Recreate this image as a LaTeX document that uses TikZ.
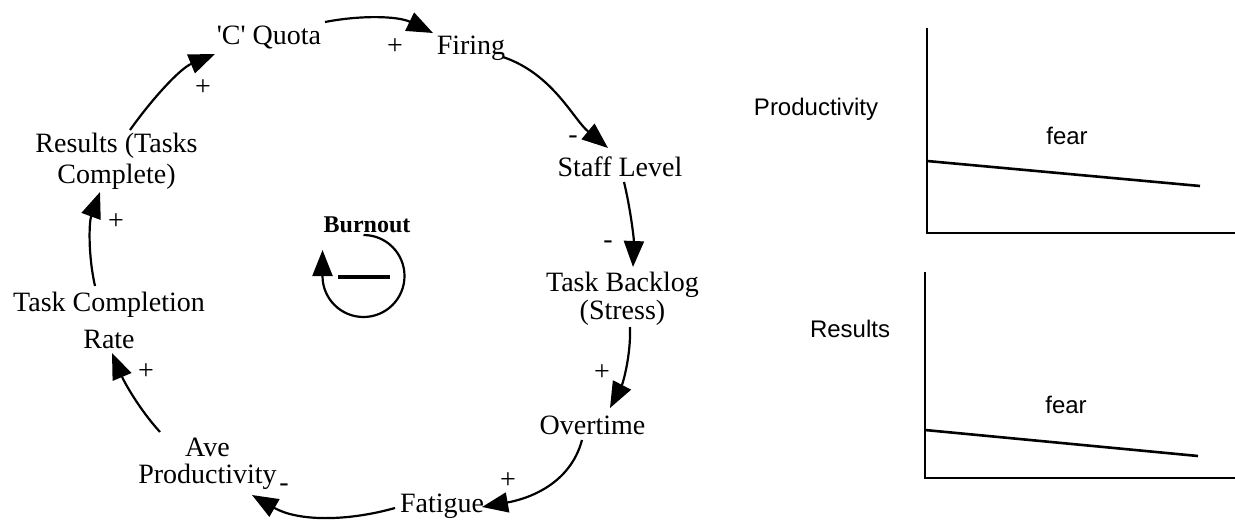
\documentclass[tikz,border=0pt]{standalone}
\usepackage{fontspec}
\setmainfont{Liberation Serif}
\newfontfamily\arialf{Liberation Sans}
\usetikzlibrary{arrows.meta}
\begin{document}
\begin{tikzpicture}[x=0.5pt,y=-0.5pt,
  var/.style={inner sep=0pt, font=\fontsize{14}{14}\selectfont, align=center},
  sgn/.style={inner sep=0pt, font=\fontsize{14}{14}\selectfont},
  link/.style={line width=1.1pt, -{Triangle[length=13pt,width=10pt]}},
  axisln/.style={line width=1pt},
  trend/.style={line width=1.3pt},
  lab/.style={inner sep=0pt, font=\arialf\fontsize{12}{12}\selectfont}]
\useasboundingbox (0,0) rectangle (1235,520);

% loop variables
\node[var] (quota) at (269,37.5) {\textquotesingle C\textquotesingle{} Quota};
\node[var] (firing) at (471,48.5) {Firing};
\node[var] (staff) at (620,167) {Staff Level};
\node[var, font=\fontsize{14}{14}\selectfont] (backlog) at (622.5,299) {Task Backlog\\(Stress)};
\node[var] (overtime) at (592.5,425) {Overtime};
\node[var] (fatigue) at (442,506) {Fatigue};
\node[var, font=\fontsize{14}{13.5}\selectfont] (ave) at (207.5,464) {Ave\\Productivity};
\node[var, font=\fontsize{14}{18.5}\selectfont] (tcr) at (109,320.5) {Task Completion\\Rate};
\node[var, font=\fontsize{14}{15.5}\selectfont] (res) at (116.5,161) {Results (Tasks\\Complete)};

% links
\draw[link] ([shift={(13.5,-31)}]res.center) .. controls +(22,-31) and +(-35,14.5) .. ([shift={(-54,16.5)}]quota.center);
\draw[link] ([shift={(56,-15.5)}]quota.center) .. controls +(36,-7) and +(-35,-17) .. ([shift={(-38,-15.5)}]firing.center);
\draw[link] ([shift={(32,8.5)}]firing.center) .. controls +(50,17) and +(-35,-29) .. ([shift={(-12,-19)}]staff.center);
\draw[link] ([shift={(4,15)}]staff.center) .. controls +(6.5,27) and +(1,-28) .. ([shift={(10.5,-32)}]backlog.center);
\draw[link] ([shift={(7.5,28)}]backlog.center) .. controls +(1,28) and +(13,-25) .. ([shift={(17.5,-17)}]overtime.center);
\draw[link] ([shift={(-10.5,15)}]overtime.center) .. controls +(-12,45) and +(45,-8) .. ([shift={(40,1)}]fatigue.center);
\draw[link] ([shift={(-47,2)}]fatigue.center) .. controls +(-50,14) and +(45,26) .. ([shift={(44.5,31)}]ave.center);
\draw[link] ([shift={(-47.5,-32)}]ave.center) .. controls +(-21,-23) and +(12,28.5) .. ([shift={(3,32.5)}]tcr.center);
\draw[link] ([shift={(-14,-34.5)}]tcr.center) .. controls +(-7,-31) and +(-11,30) .. ([shift={(-16.5,31)}]res.center);

% polarity signs
\node[sgn] (s1) at (203,88) {+};
\node[sgn] (s2) at (395,47) {+};
\node[sgn] (s3) at (573,140) {-};
\node[sgn] (s4) at (608,245) {-};
\node[sgn] (s5) at (602,373) {+};
\node[sgn] (s6) at (508,481) {+};
\node[sgn] (s7) at (284,488) {-};
\node[sgn] (s8) at (146,372) {+};
\node[sgn] (s9) at (116,222) {+};

% loop identifier
\node[inner sep=0pt, font=\bfseries\fontsize{12}{12}\selectfont] (burn) at (367,225) {Burnout};
\draw[link] (363.5,235) arc[start angle=270, end angle=540, radius=41] -- ++(0,-26);
\draw[line width=1.6pt] (338,277) -- (390,277);

% charts
\draw[axisln] (927,28) -- (927,233) -- (1235,233);
\draw[trend] (927,161) -- (1200,186);
\node[lab] (fear1) at (1067,135.5) {fear};
\node[lab] (prodlab) at (816,109) {Productivity};
\draw[axisln] (925,272) -- (925,478) -- (1235,478);
\draw[trend] (925,430) -- (1198,456);
\node[lab] (fear2) at (1066,405) {fear};
\node[lab] (reslab) at (850,329) {Results};
\end{tikzpicture}
\end{document}
